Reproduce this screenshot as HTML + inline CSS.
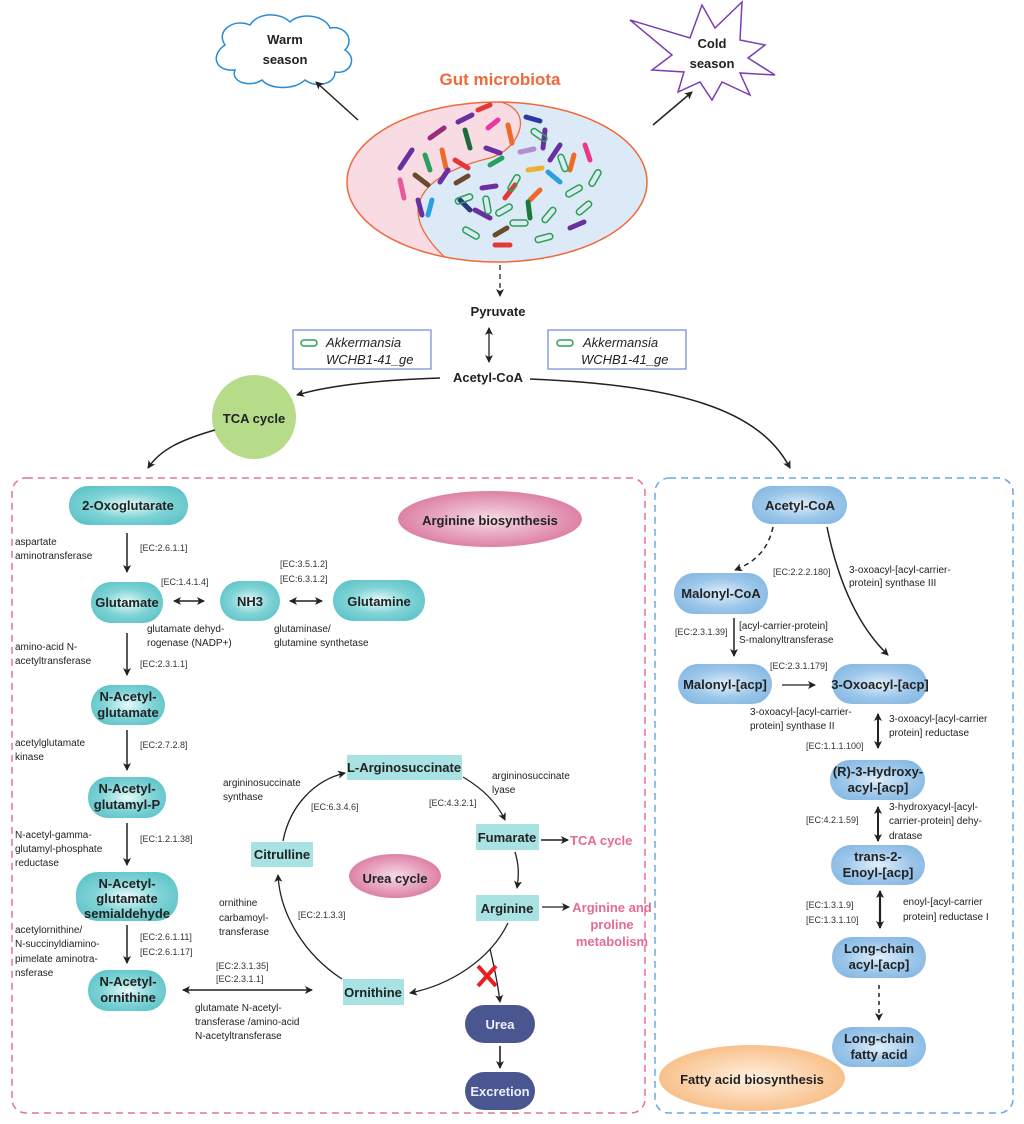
<!DOCTYPE html>
<html><head><meta charset="utf-8"><style>
body{margin:0;background:#fff}
svg{display:block;font-family:"Liberation Sans",sans-serif}
.n{font-weight:bold;font-size:13px;fill:#222;text-anchor:middle}
.s{font-size:10px;fill:#222}
.e{font-size:9px;fill:#333}
</style></head><body>
<svg width="1024" height="1124" viewBox="0 0 1024 1124" xmlns="http://www.w3.org/2000/svg">
<defs>
<radialGradient id="tg" cx="50%" cy="50%" r="60%"><stop offset="0" stop-color="#e8fbfb"/><stop offset="0.55" stop-color="#7fd3d6"/><stop offset="1" stop-color="#5cc3c8"/></radialGradient>
<radialGradient id="bg" cx="50%" cy="50%" r="60%"><stop offset="0" stop-color="#e0effb"/><stop offset="0.6" stop-color="#9cc6ea"/><stop offset="1" stop-color="#85b8e3"/></radialGradient>
<radialGradient id="pg" cx="50%" cy="50%" r="60%"><stop offset="0" stop-color="#f6dbe5"/><stop offset="1" stop-color="#d86f98"/></radialGradient>
<radialGradient id="og" cx="50%" cy="50%" r="60%"><stop offset="0" stop-color="#fff0e0"/><stop offset="1" stop-color="#f7b77a"/></radialGradient>
<marker id="a" markerWidth="8" markerHeight="8" refX="7" refY="4" orient="auto" markerUnits="userSpaceOnUse"><path d="M0,0 L8,4 L0,8 L2,4Z" fill="#222"/></marker>
<marker id="as" markerWidth="8" markerHeight="8" refX="1" refY="4" orient="auto" markerUnits="userSpaceOnUse"><path d="M8,0 L0,4 L8,8 L6,4Z" fill="#222"/></marker>
<clipPath id="ec"><ellipse cx="497" cy="182" rx="150" ry="80"/></clipPath>
</defs>

<path d="M225,45 C215,30 235,18 250,25 C258,12 280,12 290,22 C300,12 325,15 330,28 C345,25 355,40 345,50 C358,58 350,75 335,72 C335,85 315,88 305,80 C295,90 270,90 262,80 C250,88 230,82 235,70 C215,72 210,55 225,45Z" fill="#fff" stroke="#2a8ad6" stroke-width="1.5"/>
<text x="285" y="44" class="n">Warm</text>
<text x="285" y="64" class="n">season</text>
<path d="M630,20 L690,38 L702,5 L715,28 L742,2 L740,40 L765,45 L748,58 L775,75 L740,73 L750,95 L722,82 L712,100 L700,82 L678,92 L684,72 L652,70 L672,55 Z" fill="#fff" stroke="#7a3fb0" stroke-width="1.5"/>
<text x="712" y="48" class="n">Cold</text>
<text x="712" y="68" class="n">season</text>
<text x="500" y="85" font-size="17" font-weight="bold" fill="#ee6a3a" text-anchor="middle">Gut microbiota</text>
<line x1="358" y1="120" x2="316" y2="82" stroke="#222" stroke-width="1.5" marker-end="url(#a)"/>
<line x1="653" y1="125" x2="692" y2="92" stroke="#222" stroke-width="1.5" marker-end="url(#a)"/>

<g clip-path="url(#ec)">
<rect x="340" y="100" width="320" height="170" fill="#dceaf7"/>
<path d="M490,100 C540,105 520,150 490,158 C440,170 380,200 450,262 L330,262 L330,100Z" fill="#f9dbe4"/>
<path d="M490,100 C540,105 520,150 490,158 C440,170 380,200 450,262" fill="none" stroke="#ee6a3a" stroke-width="1.3"/>
</g>
<ellipse cx="497" cy="182" rx="150" ry="80" fill="none" stroke="#ee6a3a" stroke-width="1.5"/>
<g stroke-linecap="round" stroke-width="5" fill="none">
<line x1="400" y1="168" x2="412" y2="150" stroke="#6a2fa0"/>
<line x1="430" y1="138" x2="444" y2="128" stroke="#9c2a7a"/>
<line x1="458" y1="122" x2="472" y2="115" stroke="#6a2fa0"/>
<line x1="478" y1="110" x2="490" y2="105" stroke="#e23a3a"/>
<line x1="465" y1="130" x2="470" y2="148" stroke="#1a6a3a"/>
<line x1="442" y1="150" x2="446" y2="168" stroke="#ee6a2a"/>
<line x1="425" y1="155" x2="430" y2="170" stroke="#2aa060"/>
<line x1="400" y1="180" x2="404" y2="198" stroke="#e85a9a"/>
<line x1="415" y1="175" x2="428" y2="185" stroke="#6a4a2a"/>
<line x1="440" y1="182" x2="448" y2="170" stroke="#6a2fa0"/>
<line x1="455" y1="160" x2="468" y2="168" stroke="#e23a3a"/>
<line x1="488" y1="128" x2="498" y2="120" stroke="#e83aa0"/>
<line x1="508" y1="125" x2="512" y2="143" stroke="#ee6a2a"/>
<line x1="526" y1="117" x2="540" y2="121" stroke="#2a3aa0"/>
<line x1="545" y1="130" x2="543" y2="148" stroke="#6a2fa0"/>
<line x1="486" y1="148" x2="500" y2="153" stroke="#6a2fa0"/>
<line x1="456" y1="183" x2="468" y2="176" stroke="#6a4a2a"/>
<line x1="490" y1="165" x2="502" y2="158" stroke="#2aa060"/>
<line x1="520" y1="152" x2="534" y2="149" stroke="#b090d0"/>
<line x1="550" y1="160" x2="560" y2="145" stroke="#6a2fa0"/>
<line x1="418" y1="200" x2="422" y2="215" stroke="#6a2fa0"/>
<line x1="432" y1="200" x2="428" y2="215" stroke="#2aa0e0"/>
<line x1="482" y1="188" x2="496" y2="186" stroke="#6a2fa0"/>
<line x1="505" y1="198" x2="515" y2="185" stroke="#e23a3a"/>
<line x1="528" y1="170" x2="542" y2="168" stroke="#f0b030"/>
<line x1="530" y1="200" x2="540" y2="190" stroke="#ee6a2a"/>
<line x1="548" y1="172" x2="560" y2="182" stroke="#2aa0e0"/>
<line x1="574" y1="155" x2="570" y2="170" stroke="#ee6a2a"/>
<line x1="585" y1="145" x2="590" y2="160" stroke="#e83a8a"/>
<line x1="528" y1="202" x2="530" y2="218" stroke="#1a7a3a"/>
<line x1="470" y1="210" x2="460" y2="200" stroke="#2a3a80"/>
<line x1="475" y1="210" x2="490" y2="218" stroke="#6a2fa0"/>
<line x1="495" y1="235" x2="507" y2="228" stroke="#6a4a2a"/>
<line x1="570" y1="228" x2="584" y2="222" stroke="#6a2fa0"/>
<line x1="495" y1="245" x2="510" y2="245" stroke="#e23a3a"/>
</g>
<g stroke="#2aa050" stroke-width="1.5" fill="none">
<rect x="530" y="132" width="18" height="6" rx="3" transform="rotate(35 539 135)"/>
<rect x="554" y="160" width="18" height="6" rx="3" transform="rotate(70 563 163)"/>
<rect x="586" y="175" width="18" height="6" rx="3" transform="rotate(-60 595 178)"/>
<rect x="565" y="188" width="18" height="6" rx="3" transform="rotate(-30 574 191)"/>
<rect x="505" y="180" width="18" height="6" rx="3" transform="rotate(-60 514 183)"/>
<rect x="455" y="196" width="18" height="6" rx="3" transform="rotate(-20 464 199)"/>
<rect x="478" y="202" width="18" height="6" rx="3" transform="rotate(80 487 205)"/>
<rect x="495" y="207" width="18" height="6" rx="3" transform="rotate(-30 504 210)"/>
<rect x="510" y="220" width="18" height="6" rx="3"/>
<rect x="540" y="212" width="18" height="6" rx="3" transform="rotate(-50 549 215)"/>
<rect x="575" y="205" width="18" height="6" rx="3" transform="rotate(-40 584 208)"/>
<rect x="462" y="230" width="18" height="6" rx="3" transform="rotate(30 471 233)"/>
<rect x="535" y="235" width="18" height="6" rx="3" transform="rotate(-15 544 238)"/>
</g>

<line x1="500" y1="265" x2="500" y2="296" stroke="#222" stroke-width="1.3" stroke-dasharray="5,4" marker-end="url(#a)"/>
<text x="498" y="316" class="n" font-size="14">Pyruvate</text>
<line x1="489" y1="328" x2="489" y2="362" stroke="#222" stroke-width="1.3" marker-end="url(#a)" marker-start="url(#as)"/>
<text x="488" y="382" class="n" font-size="14">Acetyl-CoA</text>
<rect x="293" y="330" width="138" height="39" fill="#fff" stroke="#6a8ad8" stroke-width="1.2"/>
<rect x="301" y="340" width="16" height="6" rx="3" fill="none" stroke="#2aa050" stroke-width="1.5"/>
<text x="326" y="347" font-size="13" font-style="italic" fill="#222">Akkermansia</text>
<text x="326" y="364" font-size="13" font-style="italic" fill="#222">WCHB1-41_ge</text>
<rect x="548" y="330" width="138" height="39" fill="#fff" stroke="#6a8ad8" stroke-width="1.2"/>
<rect x="557" y="340" width="16" height="6" rx="3" fill="none" stroke="#2aa050" stroke-width="1.5"/>
<text x="583" y="347" font-size="13" font-style="italic" fill="#222">Akkermansia</text>
<text x="581" y="364" font-size="13" font-style="italic" fill="#222">WCHB1-41_ge</text>
<path d="M440,378 C380,380 330,385 297,395" fill="none" stroke="#222" stroke-width="1.5" marker-end="url(#a)"/>
<path d="M530,379 C680,385 760,410 790,468" fill="none" stroke="#222" stroke-width="1.5" marker-end="url(#a)"/>
<circle cx="254" cy="417" r="42" fill="#b6dc8a"/>
<text x="254" y="423" class="n" font-size="14">TCA cycle</text>
<path d="M215,430 C180,440 160,450 148,468" fill="none" stroke="#222" stroke-width="1.5" marker-end="url(#a)"/>

<rect x="12" y="478" width="633" height="635" rx="14" fill="none" stroke="#e07598" stroke-width="1.5" stroke-dasharray="7,5"/>
<rect x="655" y="478" width="358" height="635" rx="14" fill="none" stroke="#6aa8e0" stroke-width="1.5" stroke-dasharray="7,5"/>

<rect x="69" y="486" width="119" height="39" rx="19" fill="url(#tg)"/><text x="128" y="510" class="n" font-size="14">2-Oxoglutarate</text>
<rect x="91" y="582" width="72" height="41" rx="20" fill="url(#tg)"/><text x="127" y="607" class="n">Glutamate</text>
<rect x="220" y="581" width="60" height="40" rx="20" fill="url(#tg)"/><text x="250" y="606" class="n">NH3</text>
<rect x="333" y="580" width="92" height="41" rx="20" fill="url(#tg)"/><text x="379" y="606" class="n" font-size="14">Glutamine</text>
<rect x="91" y="685" width="74" height="40" rx="20" fill="url(#tg)"/><text x="128" y="701" class="n">N-Acetyl-</text><text x="128" y="717" class="n">glutamate</text>
<rect x="88" y="777" width="78" height="41" rx="20" fill="url(#tg)"/><text x="127" y="793" class="n">N-Acetyl-</text><text x="127" y="809" class="n">glutamyl-P</text>
<rect x="76" y="872" width="102" height="49" rx="22" fill="url(#tg)"/><text x="127" y="888" class="n">N-Acetyl-</text><text x="127" y="903" class="n">glutamate</text><text x="127" y="918" class="n">semialdehyde</text>
<rect x="88" y="970" width="78" height="41" rx="20" fill="url(#tg)"/><text x="128" y="986" class="n">N-Acetyl-</text><text x="128" y="1002" class="n">ornithine</text>
<g stroke="#222" stroke-width="1.5">
<line x1="127" y1="533" x2="127" y2="572" marker-end="url(#a)"/>
<line x1="127" y1="633" x2="127" y2="675" marker-end="url(#a)"/>
<line x1="127" y1="730" x2="127" y2="770" marker-end="url(#a)"/>
<line x1="127" y1="823" x2="127" y2="865" marker-end="url(#a)"/>
<line x1="127" y1="925" x2="127" y2="963" marker-end="url(#a)"/>
<line x1="174" y1="601" x2="204" y2="601" marker-end="url(#a)" marker-start="url(#as)"/>
<line x1="290" y1="601" x2="322" y2="601" marker-end="url(#a)" marker-start="url(#as)"/>
<line x1="183" y1="990" x2="312" y2="990" marker-end="url(#a)" marker-start="url(#as)"/>
</g>
<text x="15" y="545" class="s">aspartate</text><text x="15" y="559" class="s">aminotransferase</text>
<text x="15" y="650" class="s">amino-acid N-</text><text x="15" y="664" class="s">acetyltransferase</text>
<text x="15" y="746" class="s">acetylglutamate</text><text x="15" y="760" class="s">kinase</text>
<text x="15" y="838" class="s">N-acetyl-gamma-</text><text x="15" y="852" class="s">glutamyl-phosphate</text><text x="15" y="866" class="s">reductase</text>
<text x="15" y="933" class="s">acetylornithine/</text><text x="15" y="947" class="s">N-succinyldiamino-</text><text x="15" y="962" class="s">pimelate aminotra-</text><text x="15" y="976" class="s">nsferase</text>
<text x="147" y="632" class="s">glutamate dehyd-</text><text x="147" y="646" class="s">rogenase (NADP+)</text>
<text x="274" y="632" class="s">glutaminase/</text><text x="274" y="646" class="s">glutamine synthetase</text>
<text x="195" y="1011" class="s">glutamate N-acetyl-</text><text x="195" y="1025" class="s">transferase /amino-acid</text><text x="195" y="1039" class="s">N-acetyltransferase</text>
<text x="223" y="786" class="s">argininosuccinate</text><text x="223" y="800" class="s">synthase</text>
<text x="492" y="779" class="s">argininosuccinate</text><text x="492" y="793" class="s">lyase</text>
<text x="219" y="906" class="s">ornithine</text><text x="219" y="921" class="s">carbamoyl-</text><text x="219" y="935" class="s">transferase</text>
<text x="140" y="551" class="e">[EC:2.6.1.1]</text>
<text x="161" y="585" class="e">[EC:1.4.1.4]</text>
<text x="280" y="567" class="e">[EC:3.5.1.2]</text><text x="280" y="582" class="e">[EC:6.3.1.2]</text>
<text x="140" y="667" class="e">[EC:2.3.1.1]</text>
<text x="140" y="748" class="e">[EC:2.7.2.8]</text>
<text x="140" y="842" class="e">[EC:1.2.1.38]</text>
<text x="140" y="940" class="e">[EC:2.6.1.11]</text><text x="140" y="955" class="e">[EC:2.6.1.17]</text>
<text x="216" y="969" class="e">[EC:2.3.1.35]</text><text x="216" y="982" class="e">[EC:2.3.1.1]</text>
<text x="311" y="810" class="e">[EC:6.3.4.6]</text>
<text x="429" y="806" class="e">[EC:4.3.2.1]</text>
<text x="298" y="918" class="e">[EC:2.1.3.3]</text>
<ellipse cx="490" cy="519" rx="92" ry="28" fill="url(#pg)"/><text x="490" y="525" class="n" font-size="15">Arginine biosynthesis</text>
<ellipse cx="395" cy="876" rx="46" ry="22" fill="url(#pg)"/><text x="395" y="883" class="n" font-size="16">Urea cycle</text>
<g fill="none" stroke="#222" stroke-width="1.3">
<path d="M283,841 C290,805 315,780 345,773" marker-end="url(#a)"/>
<path d="M463,777 C485,790 498,805 505,820" marker-end="url(#a)"/>
<path d="M515,852 C519,865 519,875 517,888" marker-end="url(#a)"/>
<path d="M508,923 C490,960 450,985 410,993" marker-end="url(#a)"/>
<path d="M342,979 C305,955 280,915 278,875" marker-end="url(#a)"/>
<path d="M490,949 C495,970 498,985 500,1002" marker-end="url(#a)"/>
<line x1="500" y1="1046" x2="500" y2="1068" stroke-width="1.6" marker-end="url(#a)"/>
<line x1="541" y1="840" x2="568" y2="840" stroke-width="1.6" marker-end="url(#a)"/>
<line x1="542" y1="907" x2="569" y2="907" marker-end="url(#a)"/>
</g>
<g fill="#a8e2e2">
<rect x="347" y="755" width="115" height="25"/><rect x="476" y="824" width="63" height="26"/><rect x="476" y="895" width="63" height="26"/><rect x="251" y="842" width="62" height="25"/><rect x="343" y="979" width="61" height="26"/>
</g>
<text x="404" y="772" class="n">L-Arginosuccinate</text>
<text x="507" y="842" class="n">Fumarate</text>
<text x="507" y="913" class="n">Arginine</text>
<text x="282" y="859" class="n">Citrulline</text>
<text x="373" y="997" class="n">Ornithine</text>
<text x="570" y="845" font-size="13" font-weight="bold" fill="#e56a94">TCA cycle</text>
<text x="612" y="912" font-size="13" font-weight="bold" fill="#e56a94" text-anchor="middle">Arginine and</text>
<text x="612" y="929" font-size="13" font-weight="bold" fill="#e56a94" text-anchor="middle">proline</text>
<text x="612" y="946" font-size="13" font-weight="bold" fill="#e56a94" text-anchor="middle">metabolism</text>
<g stroke="#e82020" stroke-width="4"><line x1="478" y1="966" x2="496" y2="986"/><line x1="496" y1="966" x2="478" y2="986"/></g>
<rect x="465" y="1005" width="70" height="38" rx="19" fill="#4a5690"/><text x="500" y="1029" font-size="13" font-weight="bold" fill="#eef" text-anchor="middle">Urea</text>
<rect x="465" y="1072" width="70" height="38" rx="19" fill="#4a5690"/><text x="500" y="1096" font-size="13" font-weight="bold" fill="#eef" text-anchor="middle">Excretion</text>

<rect x="752" y="486" width="95" height="38" rx="19" fill="url(#bg)"/><text x="800" y="510" class="n">Acetyl-CoA</text>
<rect x="674" y="573" width="94" height="41" rx="20" fill="url(#bg)"/><text x="721" y="598" class="n">Malonyl-CoA</text>
<rect x="678" y="664" width="94" height="40" rx="20" fill="url(#bg)"/><text x="725" y="689" class="n">Malonyl-[acp]</text>
<rect x="832" y="664" width="95" height="40" rx="20" fill="url(#bg)"/><text x="880" y="689" class="n">3-Oxoacyl-[acp]</text>
<rect x="830" y="760" width="95" height="40" rx="20" fill="url(#bg)"/><text x="878" y="776" class="n">(R)-3-Hydroxy-</text><text x="878" y="792" class="n">acyl-[acp]</text>
<rect x="831" y="845" width="94" height="40" rx="20" fill="url(#bg)"/><text x="878" y="861" class="n">trans-2-</text><text x="878" y="877" class="n">Enoyl-[acp]</text>
<rect x="832" y="937" width="94" height="41" rx="20" fill="url(#bg)"/><text x="879" y="953" class="n">Long-chain</text><text x="879" y="969" class="n">acyl-[acp]</text>
<ellipse cx="752" cy="1078" rx="93" ry="33" fill="url(#og)"/><text x="752" y="1084" class="n" font-size="16">Fatty acid biosynthesis</text>
<rect x="832" y="1027" width="94" height="40" rx="20" fill="url(#bg)"/><text x="879" y="1043" class="n">Long-chain</text><text x="879" y="1059" class="n">fatty acid</text>
<g fill="none" stroke="#222" stroke-width="1.5">
<path d="M773,527 C768,550 755,562 735,570" stroke-dasharray="5,4" marker-end="url(#a)"/>
<path d="M827,527 C840,590 862,630 888,655" marker-end="url(#a)"/>
<line x1="734" y1="618" x2="734" y2="656" marker-end="url(#a)"/>
<line x1="782" y1="685" x2="815" y2="685" stroke-width="1.2" marker-end="url(#a)"/>
<line x1="878" y1="714" x2="878" y2="748" stroke-width="2" marker-end="url(#a)" marker-start="url(#as)"/>
<line x1="878" y1="807" x2="878" y2="841" stroke-width="2" marker-end="url(#a)" marker-start="url(#as)"/>
<line x1="880" y1="891" x2="880" y2="928" stroke-width="2.2" marker-end="url(#a)" marker-start="url(#as)"/>
<line x1="879" y1="985" x2="879" y2="1020" stroke-dasharray="4,4" marker-end="url(#a)"/>
</g>
<text x="773" y="575" class="e">[EC:2.2.2.180]</text>
<text x="849" y="573" class="s">3-oxoacyl-[acyl-carrier-</text><text x="849" y="586" class="s">protein] synthase III</text>
<text x="675" y="635" class="e">[EC:2.3.1.39]</text>
<text x="739" y="629" class="s">[acyl-carrier-protein]</text><text x="739" y="643" class="s">S-malonyltransferase</text>
<text x="770" y="669" class="e">[EC:2.3.1.179]</text>
<text x="750" y="715" class="s">3-oxoacyl-[acyl-carrier-</text><text x="750" y="729" class="s">protein] synthase II</text>
<text x="806" y="749" class="e">[EC:1.1.1.100]</text>
<text x="889" y="722" class="s">3-oxoacyl-[acyl-carrier</text><text x="889" y="736" class="s">protein] reductase</text>
<text x="806" y="823" class="e">[EC:4.2.1.59]</text>
<text x="889" y="810" class="s">3-hydroxyacyl-[acyl-</text><text x="889" y="824" class="s">carrier-protein] dehy-</text><text x="889" y="839" class="s">dratase</text>
<text x="806" y="908" class="e">[EC:1.3.1.9]</text><text x="806" y="923" class="e">[EC:1.3.1.10]</text>
<text x="903" y="905" class="s">enoyl-[acyl-carrier</text><text x="903" y="920" class="s">protein] reductase I</text>
</svg>
</body></html>
